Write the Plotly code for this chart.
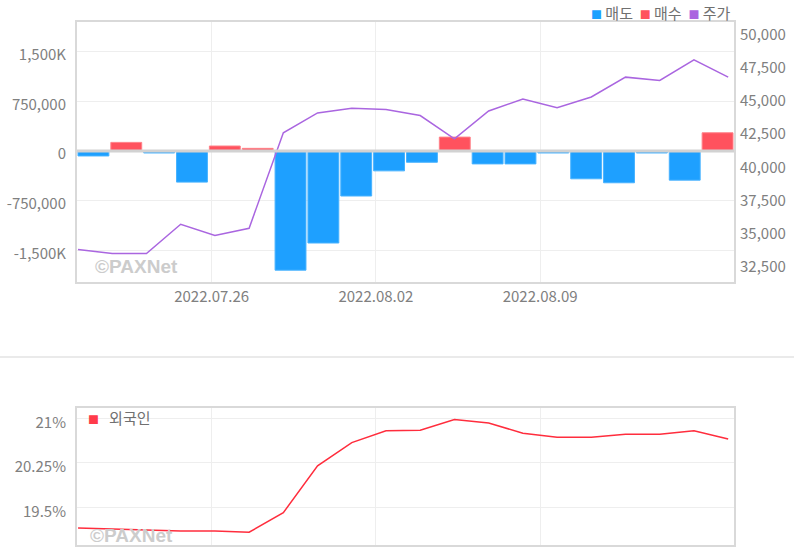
import plotly.graph_objects as go

# ---------------- data ----------------
dates = ["2022.07.20", "2022.07.21", "2022.07.22", "2022.07.25", "2022.07.26",
         "2022.07.27", "2022.07.28", "2022.07.29", "2022.08.01", "2022.08.02",
         "2022.08.03", "2022.08.04", "2022.08.05", "2022.08.08", "2022.08.09",
         "2022.08.10", "2022.08.11", "2022.08.12", "2022.08.16", "2022.08.17"]
net_foreign = [-75000, 130000, -30000, -470000, 75000, 40000, -1800000, -1390000,
               -680000, -300000, -170000, 210000, -195000, -195000, -30000,
               -420000, -480000, -30000, -440000, 275000]
price = [33800, 33500, 33500, 35700, 34850, 35400, 42600, 44100, 44450, 44350,
         43900, 42150, 44250, 45150, 44500, 45300, 46800, 46550, 48100, 46800]
foreign_ratio = [19.15, 19.13, 19.11, 19.10, 19.10, 19.08, 19.41, 20.20, 20.59, 20.79,
                 20.80, 20.98, 20.92, 20.75, 20.68, 20.68, 20.73, 20.73, 20.79, 20.65]
tick_dates = ["2022.07.26", "2022.08.02", "2022.08.09"]
left_tickvals = [-1500000, -750000, 0, 750000, 1500000]
left_ticktext = ["-1,500K", "-750,000", "0", "750,000", "1,500K"]
right_tickvals = [32500, 35000, 37500, 40000, 42500, 45000, 47500, 50000]
ratio_tickvals = [19.5, 20.25, 21]
ratio_ticktext = ["19.5%", "20.25%", "21%"]

idx = list(range(len(dates)))
sell = [v if v < 0 else None for v in net_foreign]
buy = [v if v > 0 else None for v in net_foreign]

BAR_XRANGE = [-0.5, 19.5]
LINE_XRANGE = [-0.03, 19.17]
TOP_YRANGE = [-1974400, 1953200]
PRICE_RANGE = [31369, 50981]
RATIO_RANGE = [18.865, 21.169]

tickpos = [dates.index(d) - 0.4 for d in tick_dates]          # in bar-axis units
# same positions expressed on the line axis (used by the lower panel)
tickpos_line = [LINE_XRANGE[0] + (t - BAR_XRANGE[0]) / (BAR_XRANGE[1] - BAR_XRANGE[0])
                * (LINE_XRANGE[1] - LINE_XRANGE[0]) for t in tickpos]

BLUE = "#1ea0ff"
RED = "#ff525e"
PURPLE = "#aa66e0"
LINE_RED = "#ff2d3d"
GRID = "#eeeeee"
BORDER = "#d9d9d9"
TXT = "#808080"
FONT = "Noto Sans CJK KR"

W, H = 794, 550
xdom = [77 / W, 734 / W]
ydom_top = [1 - 281.7 / H, 1 - 21.7 / H]
ydom_bot = [1 - 545 / H, 1 - 408.3 / H]

fig = go.Figure()
fig.add_trace(go.Bar(x=idx, y=sell, name="매도", width=0.94,
                     marker=dict(color=BLUE, line=dict(color="#47b2ff", width=1)),
                     xaxis="x", yaxis="y", showlegend=False))
fig.add_trace(go.Bar(x=idx, y=buy, name="매수", width=0.94,
                     marker=dict(color=RED, line=dict(color="#ff8088", width=1)),
                     xaxis="x", yaxis="y", showlegend=False))
fig.add_trace(go.Scatter(x=idx, y=price, name="주가", mode="lines",
                         line=dict(color=PURPLE, width=1.5),
                         xaxis="x2", yaxis="y2", showlegend=False))
fig.add_trace(go.Scatter(x=idx, y=foreign_ratio, name="외국인", mode="lines",
                         line=dict(color=LINE_RED, width=1.5),
                         xaxis="x3", yaxis="y3", showlegend=False))

axis_common = dict(showgrid=True, gridcolor=GRID, gridwidth=1, zeroline=False,
                   showline=True, mirror=True, linecolor=BORDER, linewidth=2,
                   ticks="", automargin=False,
                   tickfont=dict(family=FONT, size=15, color=TXT))

fig.update_layout(
    width=W, height=H, autosize=False,
    margin=dict(l=0, r=0, t=0, b=0, pad=0),
    paper_bgcolor="white", plot_bgcolor="white",
    barmode="overlay",
    font=dict(family=FONT, size=15, color=TXT),
    xaxis=dict(domain=xdom, anchor="y", range=BAR_XRANGE,
               tickmode="array", tickvals=tickpos, ticktext=tick_dates,
               ticklabelstandoff=0, **axis_common),
    xaxis2=dict(domain=xdom, overlaying="x", anchor="y", range=LINE_XRANGE, visible=False),
    yaxis=dict(domain=ydom_top, anchor="x", range=TOP_YRANGE,
               tickmode="array", tickvals=left_tickvals, ticktext=left_ticktext,
               ticklabelstandoff=6, ticklabelshift=3, **axis_common),
    yaxis2=dict(domain=ydom_top, overlaying="y", anchor="x", side="right", range=PRICE_RANGE,
                tickmode="array", tickvals=right_tickvals, tickformat=",",
                showgrid=False, zeroline=False, showline=False, ticks="",
                ticklabelstandoff=5, automargin=False,
                tickfont=dict(family=FONT, size=15, color=TXT)),
    xaxis3=dict(domain=xdom, anchor="y3", range=LINE_XRANGE,
                tickmode="array", tickvals=tickpos_line, showticklabels=False,
                **axis_common),
    yaxis3=dict(domain=ydom_bot, anchor="x3", range=RATIO_RANGE,
                tickmode="array", tickvals=ratio_tickvals, ticktext=ratio_ticktext,
                ticklabelstandoff=6, ticklabelshift=4, **axis_common),
    hovermode=False,
)

# zero baseline for the bars
fig.add_shape(type="line", xref="x domain", x0=0, x1=1, yref="y", y0=0, y1=0,
              line=dict(color="#d2d2d2", width=3), layer="above")
# separator between the two panels
fig.add_shape(type="line", xref="paper", x0=0, x1=1, yref="paper",
              y0=1 - 357 / H, y1=1 - 357 / H, line=dict(color="#e3e3e3", width=1.5))

sq = "<span style='font-size:11px;color:{c}'>■</span>"
fig.add_annotation(
    xref="paper", yref="paper", x=733 / W, y=1 - 12.5 / H, xanchor="right", yanchor="middle",
    showarrow=False, font=dict(family=FONT, size=15, color="#707070"),
    text=(sq.format(c=BLUE) + " 매도&nbsp;&nbsp;" + sq.format(c=RED) + " 매수&nbsp;&nbsp;"
          + sq.format(c=PURPLE) + " 주가"))
fig.add_annotation(
    xref="paper", yref="paper", x=86 / W, y=1 - 417 / H, xanchor="left", yanchor="middle",
    showarrow=False, font=dict(family=FONT, size=15, color="#707070"),
    text=sq.format(c="#ff3b4a") + "&nbsp;&nbsp; 외국인")

for xw, yw in [(93, 266.5), (88, 535)]:
    fig.add_annotation(
        xref="paper", yref="paper", x=xw / W, y=1 - yw / H, xanchor="left", yanchor="middle",
        showarrow=False, text="<b>©PAXNet</b>",
        font=dict(family="Liberation Sans", size=19, color="#cccccc"))

css_fix = ("document.documentElement.style.margin='0';"
           "document.documentElement.style.padding='0';"
           "document.documentElement.style.overflow='hidden';"
           "document.body.style.margin='0';document.body.style.padding='0';"
           "document.body.style.overflow='hidden';window.scrollTo(0,0);")
fig.write_html("out.html", config={"displayModeBar": False}, post_script=css_fix)
